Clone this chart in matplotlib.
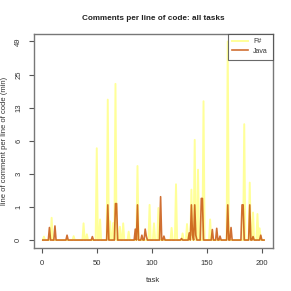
import numpy as np
import matplotlib
matplotlib.use('Agg')
import matplotlib.pyplot as plt

plt.rcParams['font.family'] = ['Liberation Sans', 'DejaVu Sans']

# Dados (tarefas 1..202, o resto é zero)
n_tasks = 202
fsharp_tasks = [2, 9, 29, 38, 41, 50, 53, 60, 62, 65, 67, 71, 74, 79, 87,
                98, 102, 106, 118, 122, 128, 132, 136, 139, 142, 147, 153,
                169, 184, 189, 192, 196, 198]
fsharp_vals = [0.07, 0.55, 0.08, 0.39, 0.12, 5.1, 0.5, 14.9, 0.45, 0.4, 20.7,
               0.3, 0.39, 0.18, 3.3, 1.0, 0.39, 0.88, 0.27, 2.0, 0.14, 0.37,
               1.7, 6.2, 3.0, 14.4, 0.5, 49.0, 8.8, 2.1, 0.72, 0.67, 0.26]

java_tasks = [7, 12, 23, 46, 60, 67, 68, 85, 87, 91, 94, 95, 108, 111, 127,
              134, 136, 137, 139, 140, 145, 146, 155, 159, 162, 169, 172,
              182, 183, 189, 192, 199]
java_vals = [0.28, 0.32, 0.1, 0.07, 1.0, 1.05, 1.05, 0.24, 1.0, 0.1, 0.24,
             0.08, 1.35, 0.08, 0.03, 0.15, 1.0, 0.1, 1.0, 0.1, 1.27, 1.27,
             0.23, 0.26, 0.08, 1.0, 0.28, 1.0, 1.0, 1.0, 0.07, 0.1]

y_tick_labels = [0, 1, 3, 6, 13, 25, 49]

tasks = np.arange(1, n_tasks + 1)
fsharp = np.zeros(n_tasks)
java = np.zeros(n_tasks)
fsharp[np.array(fsharp_tasks) - 1] = fsharp_vals
java[np.array(java_tasks) - 1] = java_vals

# eixo y em escala log(x+1)
def trans(v):
    return np.log1p(v)

top = np.log1p(49)

fig = plt.figure(figsize=(2.91, 2.91), dpi=100)
ax = fig.add_axes([0.1168, 0.1478, 0.821, 0.737])

ax.plot(tasks, trans(fsharp), color='#ffff80', lw=1.4, alpha=0.8, label='F#')
ax.plot(tasks, trans(java), color='#c8560f', lw=1.2, alpha=0.85, label='Java')

ax.set_xlim(1 - 0.04 * 201, 202 + 0.04 * 201)
ax.set_ylim(-0.04 * top, top * 1.04)
ax.set_xticks([0, 50, 100, 150, 200])
ax.set_yticks([top * k / 6 for k in range(7)])
ax.set_yticklabels([str(v) for v in y_tick_labels], rotation=90, va='center')

ax.tick_params(labelsize=5.5, length=3.5, width=0.8, color='#555555',
               labelcolor='#333333', pad=5)
for s in ax.spines.values():
    s.set_color('#777777')
    s.set_linewidth(1.0)

ax.set_title('Comments per line of code: all tasks', fontsize=5.9,
             fontweight='bold', pad=10, color='#222222')
ax.set_xlabel('task', fontsize=5.5, labelpad=7, color='#333333')
ax.set_ylabel('line of comment per line of code (min)', fontsize=5.5,
              labelpad=5, color='#333333')

leg = ax.legend(loc='upper right', fontsize=5, frameon=True, fancybox=False,
                borderaxespad=0, handlelength=2.2, borderpad=0.7,
                labelspacing=0.35, handletextpad=0.8)
leg.get_frame().set_edgecolor('#444444')
leg.get_frame().set_linewidth(0.8)
for t in leg.get_texts():
    t.set_color('#333333')

plt.savefig('out.png', dpi=100)
